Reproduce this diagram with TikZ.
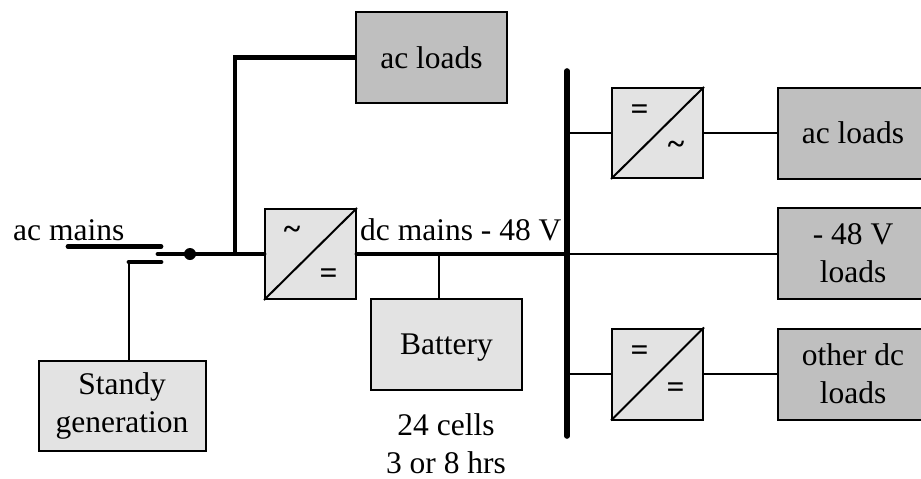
\documentclass[tikz,border=0pt]{standalone}
\usepackage{fontspec}
\setmainfont{Liberation Serif}
\tikzset{
 x=1pt,y=-1pt,
 txt/.style={font=\fontsize{31.5}{38}\selectfont,align=center},
 lightbox/.style={draw=black,line width=2pt,fill=black!11,txt,inner sep=0pt,anchor=center},
 darkbox/.style={draw=black,line width=2pt,fill=black!25,txt,inner sep=0pt,minimum width=150pt,minimum height=91pt,anchor=center},
 conv/.style={draw=black,line width=2pt,fill=black!11,minimum width=91pt,minimum height=90pt,inner sep=0pt,anchor=center},
 diag/.style={line width=2pt},
 thinwire/.style={line width=1.8pt},
 thickwire/.style={line width=4.8pt,line cap=round},
 lbl/.style={txt,inner sep=0pt},
 sym/.style={font=\fontsize{31.5}{31.5}\selectfont\bfseries,inner sep=0pt}
}
\begin{document}
\begin{tikzpicture}
\useasboundingbox (0,0) rectangle (921,479);
% bus and free ends
\coordinate (bustop) at (567,71);
\coordinate (busbot) at (567,436);
\coordinate (acin) at (68,246.5);
\coordinate (swa) at (161,246.5);
\coordinate (swb) at (161,262);
\coordinate (swc) at (129,262);
\coordinate (swd) at (158,254);
% boxes
\node[darkbox,minimum width=151pt] (acl) at (431.5,57.5) {ac loads};
\node[conv] (c1) at (310.5,254) {};
\node[conv] (c2) at (657.5,133) {};
\node[conv,minimum height=91pt] (c3) at (657.5,374) {};
\node[darkbox] (r1) at (853,133) {ac loads};
\node[darkbox] (r2) at (853,253.5) {- 48 V\\loads};
\node[darkbox] (r3) at (853,374) {other dc\\loads};
\node[lightbox,minimum width=151pt,minimum height=91pt,text depth=0pt] (bat) at (446.5,344.5) {Battery};
\node[lightbox,minimum width=167pt,minimum height=90pt] (std) at (122,405.5) {Standy\\generation};
\coordinate (jn) at (235,254);
\coordinate (corner) at (jn |- acl.west);
\coordinate (bt) at (439,254);
% thin wires
\draw[thinwire] (bt) -- (bt |- bat.north);
\draw[thinwire] (swc) -- (swc |- std.north);
\draw[thinwire] (bustop |- c2.west) -- (c2.west);
\draw[thinwire] (c2.east) -- (c2.east -| r1.west);
\draw[thinwire] (bustop |- c1.east) -- (c1.east -| r2.west);
\draw[thinwire] (bustop |- c3.west) -- (c3.west);
\draw[thinwire] (c3.east) -- (c3.east -| r3.west);
% thick wires
\draw[thickwire] (acin) -- (swa);
\draw[thickwire] (swc) -- (swb);
\draw[thickwire] (swd) -- (c1.west);
\draw[line width=4.8pt,line join=miter] (acl.west) -- (corner) -- (jn);
\draw[thickwire] (c1.east) -- (bustop |- c1.east);
\draw[line width=5.6pt,line cap=round] (bustop) -- (busbot);
\node[circle,fill=black,minimum size=12pt,inner sep=0pt] (dot) at (190,254) {};
% converter diagonals and symbols
\foreach \c in {c1,c2,c3} \draw[diag] (\c.south west) -- (\c.north east);
\node[sym] (s1a) at (292,233) {\char"7E};
\node[sym] (s1b) at (328.5,276) {=};
\node[sym] (s2a) at (639.5,112) {=};
\node[sym] (s2b) at (676,148) {\char"7E};
\node[sym] (s3a) at (639.5,353) {=};
\node[sym] (s3b) at (675.5,390) {=};
% labels
\node[lbl,anchor=base west] (acm) at (13,240) {ac mains};
\node[lbl,anchor=base west] (dcm) at (360,240.5) {dc mains - 48 V};
\node[lbl] (cells) at (446,444) {24 cells\\3 or 8 hrs};
\end{tikzpicture}
\end{document}
